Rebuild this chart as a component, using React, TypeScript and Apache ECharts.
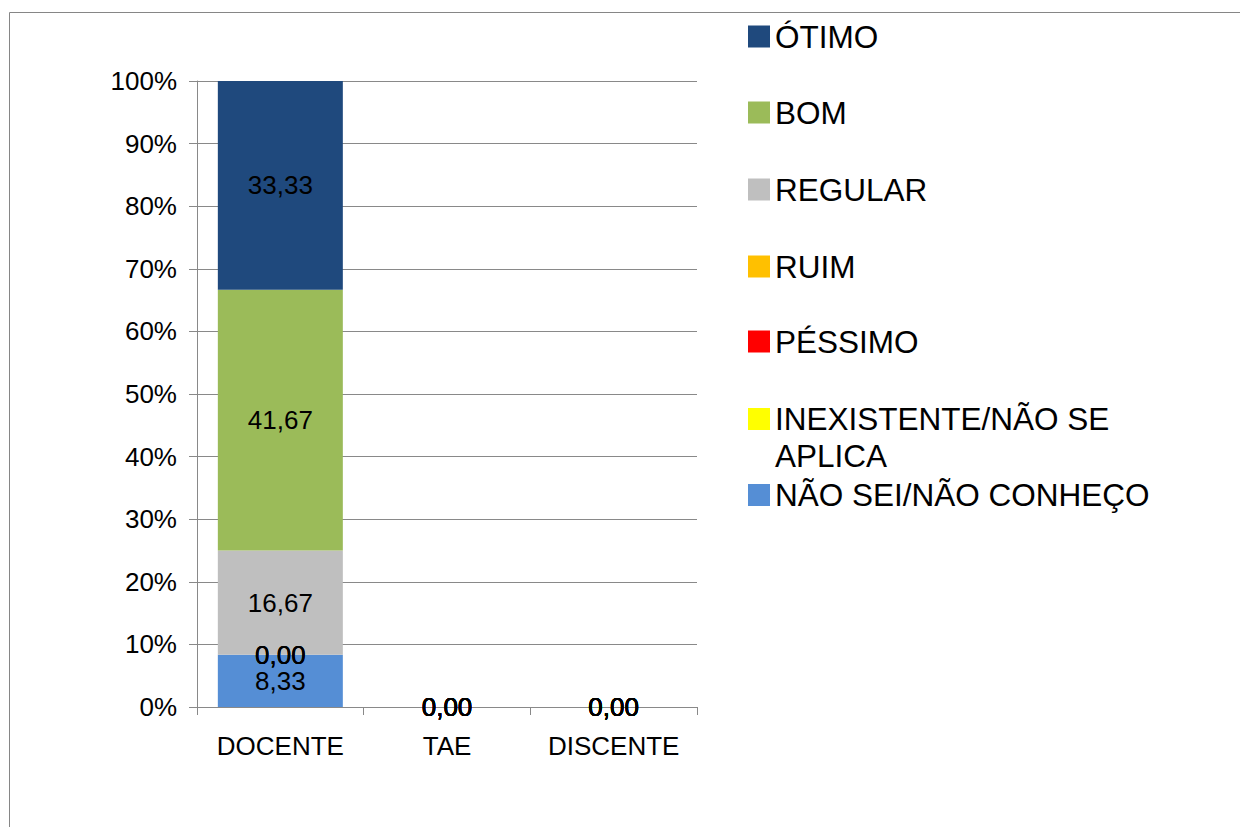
import React, { useEffect, useRef } from "react";
import * as echarts from "echarts";

const categories = ["DOCENTE", "TAE", "DISCENTE"];
const seriesNames = [
  "NÃO SEI/NÃO CONHEÇO",
  "INEXISTENTE/NÃO SE APLICA",
  "PÉSSIMO",
  "RUIM",
  "REGULAR",
  "BOM",
  "ÓTIMO",
];
const naoSei = [8.33, 0, 0];
const inexistente = [0, 0, 0];
const pessimo = [0, 0, 0];
const ruim = [0, 0, 0];
const regular = [16.67, 0, 0];
const bom = [41.67, 0, 0];
const otimo = [33.33, 0, 0];
const seriesValues = [naoSei, inexistente, pessimo, ruim, regular, bom, otimo];
const seriesColors = ["#558ED5", "#FFFF00", "#FF0000", "#FFC000", "#BFBFBF", "#9BBB59", "#1F497D"];
const legendOrder = ["ÓTIMO", "BOM", "REGULAR", "RUIM", "PÉSSIMO", "INEXISTENTE/NÃO SE APLICA", "NÃO SEI/NÃO CONHEÇO"];

const FONT = "'Liberation Sans', Arial, sans-serif";

export default function App() {
  const ref = useRef<HTMLDivElement>(null);
  useEffect(() => {
    if (!ref.current) return;
    const chart = echarts.init(ref.current, undefined, { renderer: "svg" });
    const legendTops = [18, 94, 171, 248, 323, 363.5, 476.5];
    const legends = legendOrder.map((name, i) => ({
      data: [name],
      orient: "vertical",
      left: 748,
      top: legendTops[i],
      padding: 0,
      icon: "rect",
      itemWidth: 22,
      itemHeight: 22,
      selectedMode: false,
      formatter: (n: string) =>
        n === "INEXISTENTE/NÃO SE APLICA" ? "\nINEXISTENTE/NÃO SE\nAPLICA" : n,
      textStyle: {
        fontFamily: FONT,
        fontSize: 31.5,
        lineHeight: 37,
        color: "#000",
      },
    }));
    chart.setOption({
      animation: false,
      backgroundColor: "#fff",
      textStyle: { fontFamily: FONT },
      grid: { left: 197, top: 81, right: 543, bottom: 120, containLabel: false },
      legend: legends,
      graphic: [
        {
          type: "rect",
          shape: { x: 9.5, y: 12.5, width: 1400, height: 1000 },
          style: { fill: "none", stroke: "#868686", lineWidth: 1 },
          silent: true,
        },
      ],
      xAxis: {
        type: "category",
        data: categories,
        axisLine: { show: true, lineStyle: { color: "#898989" } },
        axisTick: { show: true, length: 8, alignWithLabel: false, lineStyle: { color: "#898989" } },
        axisLabel: { fontFamily: FONT, fontSize: 26, color: "#000", margin: 26, interval: 0 },
        splitLine: { show: false },
      },
      yAxis: {
        type: "value",
        min: 0,
        max: 100,
        interval: 10,
        axisLine: { show: true, lineStyle: { color: "#898989" } },
        axisTick: { show: true, length: 8, lineStyle: { color: "#898989" } },
        axisLabel: { fontFamily: FONT, fontSize: 26, color: "#000", margin: 20, formatter: "{value}%" },
        splitLine: { show: true, lineStyle: { color: "#898989", width: 1 } },
      },
      series: seriesNames.map((name, i) => ({
        name,
        type: "bar",
        stack: "total",
        barWidth: "75%",
        data: seriesValues[i],
        itemStyle: { color: seriesColors[i] },
        label: {
          show: true,
          position: "inside",
          fontFamily: FONT,
          fontSize: 26,
          color: "#000",
          textBorderWidth: 0,
          textBorderColor: "transparent",
          formatter: (p: any) => Number(p.value).toFixed(2).replace(".", ","),
        },
      })),
    });
    return () => chart.dispose();
  }, []);
  return (
    <div
      ref={ref}
      style={{ position: "fixed", left: 0, top: 0, width: 1240, height: 827, background: "#fff" }}
    />
  );
}
